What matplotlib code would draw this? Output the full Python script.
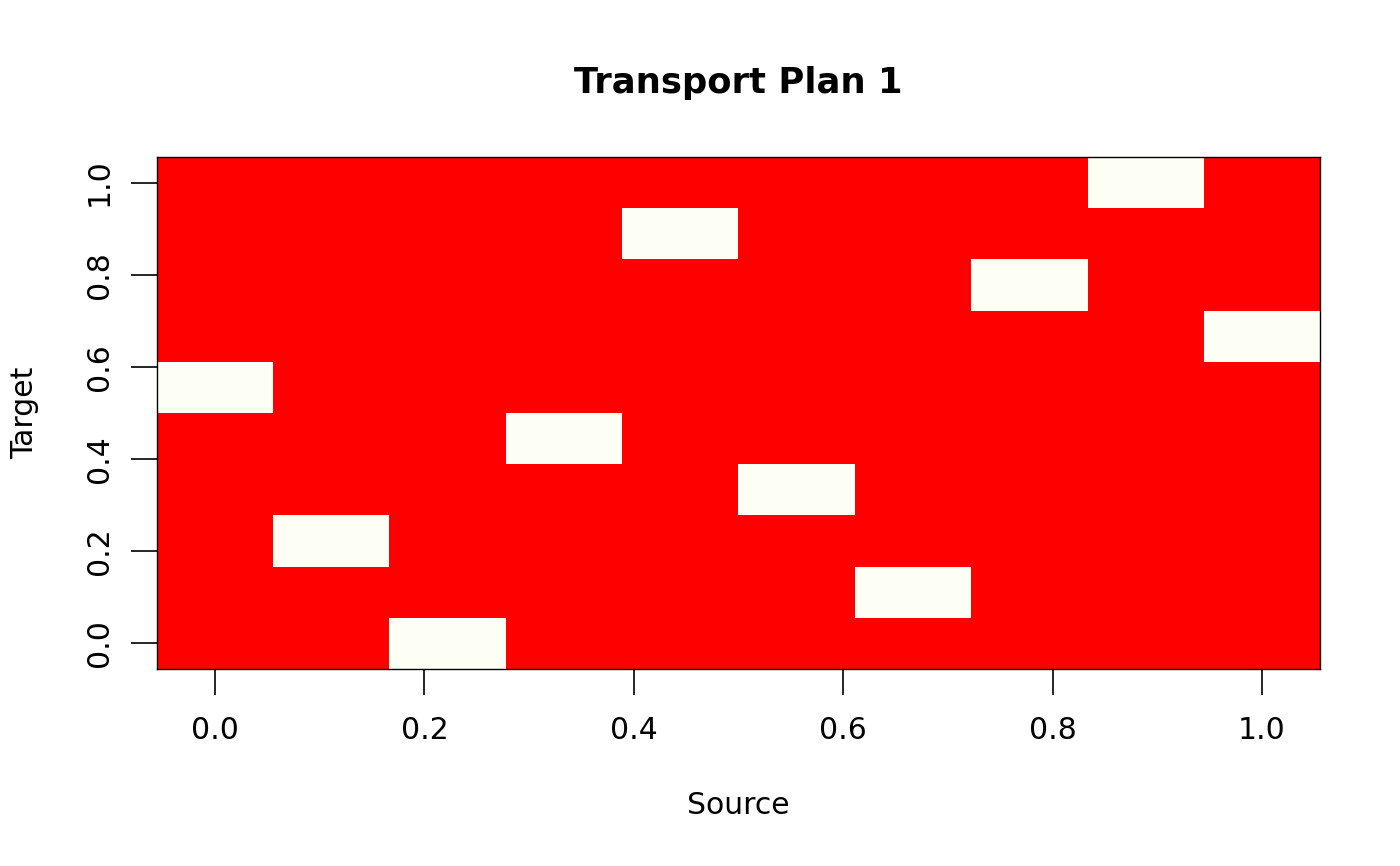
import numpy as np
import matplotlib.pyplot as plt
from matplotlib.colors import ListedColormap

# transport plan: source index -> target index (10 x 10 permutation)
source = [0, 1, 2, 3, 4, 5, 6, 7, 8, 9]
target = [5, 2, 0, 4, 8, 3, 1, 7, 9, 6]
n = 10

plan = np.zeros((n, n))
for s, t in zip(source, target):
    plan[t, s] = 1.0

centers = np.linspace(0, 1, n)
step = centers[1] - centers[0]
edges = np.concatenate([centers - step / 2, [centers[-1] + step / 2]])

fig = plt.figure(figsize=(14, 8.66), dpi=100)
ax = fig.add_axes([0.112, 0.2275, 0.831, 0.5912])

cmap = ListedColormap(["#FF0000", "#FDFFF5"])
ax.pcolormesh(edges, edges, plan, cmap=cmap, vmin=0, vmax=1)
ax.set_xlim(edges[0], edges[-1])
ax.set_ylim(edges[0], edges[-1])

ticks = [0.0, 0.2, 0.4, 0.6, 0.8, 1.0]
ax.set_xticks(ticks)
ax.set_yticks(ticks)
ax.set_xticklabels([f"{t:.1f}" for t in ticks], fontsize=21.5)
ax.set_yticklabels([f"{t:.1f}" for t in ticks], fontsize=21.5,
                   rotation=90, va="center")
ax.tick_params(length=19, width=1.2)
ax.tick_params(axis="y", pad=12)
ax.tick_params(axis="x", pad=15)
for sp in ax.spines.values():
    sp.set_linewidth(1.0)

ax.set_xlabel("Source", fontsize=21.5, labelpad=33)
ax.set_ylabel("Target", fontsize=21.5, labelpad=33)
ax.set_title("Transport Plan 1", fontsize=25.5, fontweight="bold", pad=46)

fig.savefig("out.png", dpi=100)
